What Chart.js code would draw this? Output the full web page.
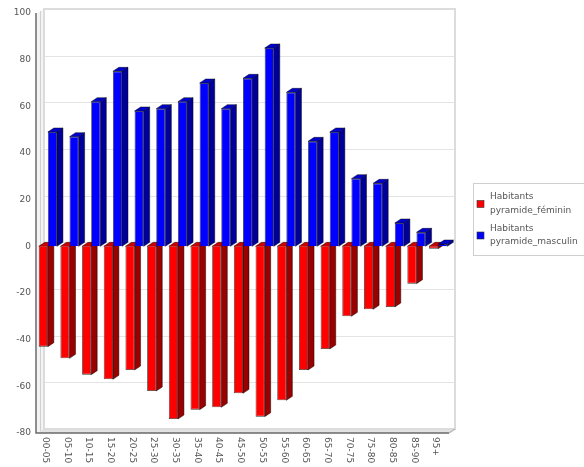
<!DOCTYPE html>
<html>
<head>
<meta charset="utf-8">
<script src="https://cdn.jsdelivr.net/npm/chart.js@4.4.0/dist/chart.umd.min.js"></script>
<style>
  html, body { margin: 0; padding: 0; background: #fff; }
  canvas { display: block; }
</style>
</head>
<body>
<canvas id="c" width="584" height="467"></canvas>
<script>
// Age groups along the horizontal axis
const categories = ['00-05', '05-10', '10-15', '15-20', '20-25', '25-30', '30-35', '35-40', '40-45',
  '45-50', '50-55', '55-60', '60-65', '65-70', '70-75', '75-80', '80-85', '85-90', '95+'];

// Women are plotted below zero, men above
const feminin = [-43, -48, -55, -57, -53, -62, -74, -70, -69, -63, -73, -66, -53, -44, -30, -27, -26, -16, -1];
const masculin = [49, 47, 62, 75, 58, 59, 62, 70, 59, 72, 85, 66, 45, 49, 29, 27, 10, 6, 1];

const seriesNames = ['Habitants pyramide_féminin', 'Habitants pyramide_masculin'];

const yMin = -80;
const yMax = 100;
const yStep = 20;

// Depth of the extruded bars and of the walls behind the plot
const BAR_DX = 6, BAR_DY = 4;
const WALL_DX = 7, WALL_DY = 4;

const faces = [
  { front: '#ff0000', side: '#990000', top: '#cc0000' },
  { front: '#0000ff', side: '#000099', top: '#0000cc' }
];

const FONT = "'DejaVu Sans', sans-serif";

function poly(ctx, pts, fill) {
  ctx.beginPath();
  ctx.moveTo(pts[0][0], pts[0][1]);
  for (let i = 1; i < pts.length; i++) ctx.lineTo(pts[i][0], pts[i][1]);
  ctx.closePath();
  ctx.fillStyle = fill;
  ctx.fill();
  ctx.strokeStyle = 'rgba(0,0,0,0.75)';
  ctx.lineWidth = 0.6;
  ctx.stroke();
}

// Walls, grid and the bars with their side and top faces, drawn category by category
const bars3d = {
  id: 'bars3d',
  beforeDatasetsDraw(chart) {
    const { ctx, chartArea: a, scales: { y } } = chart;
    ctx.save();

    // left wall
    ctx.fillStyle = '#f3f3f3';
    ctx.beginPath();
    ctx.moveTo(a.left, a.top);
    ctx.lineTo(a.left + WALL_DX, a.top - WALL_DY);
    ctx.lineTo(a.left + WALL_DX, a.bottom - WALL_DY);
    ctx.lineTo(a.left, a.bottom);
    ctx.closePath();
    ctx.fill();

    // floor
    ctx.fillStyle = '#e2e2e2';
    ctx.beginPath();
    ctx.moveTo(a.left, a.bottom);
    ctx.lineTo(a.left + WALL_DX, a.bottom - WALL_DY);
    ctx.lineTo(a.right + WALL_DX - 1, a.bottom - WALL_DY);
    ctx.lineTo(a.right, a.bottom);
    ctx.closePath();
    ctx.fill();

    // back wall grid lines
    ctx.strokeStyle = '#e4e4e4';
    ctx.lineWidth = 1;
    for (let v = yMin; v <= yMax; v += yStep) {
      const py = Math.round(y.getPixelForValue(v) - WALL_DY) + 0.5;
      ctx.beginPath();
      ctx.moveTo(a.left + WALL_DX, py);
      ctx.lineTo(a.right + WALL_DX - 1, py);
      ctx.stroke();
    }

    // back wall outline
    ctx.strokeStyle = '#dcdcdc';
    ctx.lineWidth = 2;
    ctx.strokeRect(a.left + WALL_DX, a.top - WALL_DY, a.right - a.left - 1, a.bottom - a.top);

    // left wall edge
    ctx.strokeStyle = '#d0d0d0';
    ctx.lineWidth = 1;
    ctx.beginPath();
    ctx.moveTo(a.left + 3.5, a.top - 2);
    ctx.lineTo(a.left + 3.5, a.bottom - 2);
    ctx.stroke();

    // front axis lines
    ctx.strokeStyle = '#6a6a6a';
    ctx.lineWidth = 1.5;
    ctx.beginPath();
    ctx.moveTo(a.left - 1, a.top);
    ctx.lineTo(a.left - 1, a.bottom);
    ctx.lineTo(a.right, a.bottom);
    ctx.stroke();
    ctx.strokeStyle = '#b8b8b8';
    ctx.lineWidth = 1.5;
    ctx.beginPath();
    ctx.moveTo(a.right, a.bottom);
    ctx.lineTo(a.right + WALL_DX - 1, a.bottom - WALL_DY);
    ctx.stroke();

    // bars: for each category, every series with side, top, then front face
    const metas = chart.data.datasets.map((d, i) => chart.getDatasetMeta(i));
    for (let i = 0; i < categories.length; i++) {
      metas.forEach((meta, s) => {
        const el = meta.data[i];
        if (!el) return;
        const p = el.getProps(['x', 'y', 'base', 'width'], true);
        const left = p.x - p.width / 2, right = p.x + p.width / 2;
        const top = Math.min(p.y, p.base), bottom = Math.max(p.y, p.base);
        const f = faces[s];
        poly(ctx, [[right, top], [right + BAR_DX, top - BAR_DY], [right + BAR_DX, bottom - BAR_DY], [right, bottom]], f.side);
        poly(ctx, [[left, top], [left + BAR_DX, top - BAR_DY], [right + BAR_DX, top - BAR_DY], [right, top]], f.top);
        el.draw(ctx, a);
      });
    }
    ctx.restore();
    return false;
  }
};

// Category labels, turned a quarter clockwise under the axis
const xLabels = {
  id: 'xLabels',
  afterDraw(chart) {
    const { ctx, chartArea: a, scales: { x } } = chart;
    ctx.save();
    ctx.font = '9px ' + FONT;
    ctx.fillStyle = '#555';
    ctx.textAlign = 'left';
    ctx.textBaseline = 'middle';
    categories.forEach((c, i) => {
      const px = x.getPixelForValue(i) - 2.5;
      ctx.save();
      ctx.translate(px, a.bottom + 4);
      ctx.rotate(Math.PI / 2);
      ctx.fillText(c, 0, 0);
      ctx.restore();
    });
    ctx.restore();
  }
};

// Legend box on the right
const sideLegend = {
  id: 'sideLegend',
  afterDraw(chart) {
    const { ctx } = chart;
    ctx.save();
    ctx.strokeStyle = '#cfcfcf';
    ctx.lineWidth = 1;
    ctx.strokeRect(473.5, 183.5, 112, 72);
    ctx.font = '9px ' + FONT;
    ctx.textAlign = 'left';
    ctx.textBaseline = 'middle';
    chart.data.datasets.forEach((d, s) => {
      const y0 = 197 + s * 31.5;
      ctx.fillStyle = faces[s].front;
      ctx.fillRect(477, y0 + 3.5, 7, 7);
      ctx.strokeStyle = '#333';
      ctx.lineWidth = 0.6;
      ctx.strokeRect(477, y0 + 3.5, 7, 7);
      const cut = d.label.indexOf(' ');
      ctx.fillStyle = '#555';
      ctx.fillText(d.label.slice(0, cut), 490, y0);
      ctx.fillText(d.label.slice(cut + 1), 490, y0 + 13.5);
    });
    ctx.restore();
  }
};

new Chart(document.getElementById('c'), {
  type: 'bar',
  data: {
    labels: categories,
    datasets: [
      { label: seriesNames[0], data: feminin, backgroundColor: faces[0].front, borderColor: 'rgba(0,0,0,0.8)', borderWidth: 0.8 },
      { label: seriesNames[1], data: masculin, backgroundColor: faces[1].front, borderColor: 'rgba(0,0,0,0.8)', borderWidth: 0.8 }
    ]
  },
  options: {
    responsive: false,
    devicePixelRatio: 1,
    animation: false,
    layout: { padding: { top: 13, right: 135, bottom: 0, left: 0 } },
    datasets: { bar: { categoryPercentage: 0.84, barPercentage: 1 } },
    plugins: { legend: { display: false }, tooltip: { enabled: false } },
    scales: {
      x: {
        grid: { display: false, drawTicks: false },
        border: { display: false },
        ticks: { display: false },
        afterFit(scale) { scale.height = 34; }
      },
      y: {
        min: yMin,
        max: yMax,
        grid: { display: false, drawTicks: false },
        border: { display: false },
        ticks: { stepSize: yStep, padding: 6, color: '#555', font: { family: FONT, size: 9 } },
        afterFit(scale) { scale.width = 37; }
      }
    }
  },
  plugins: [bars3d, xLabels, sideLegend]
});
</script>
</body>
</html>
